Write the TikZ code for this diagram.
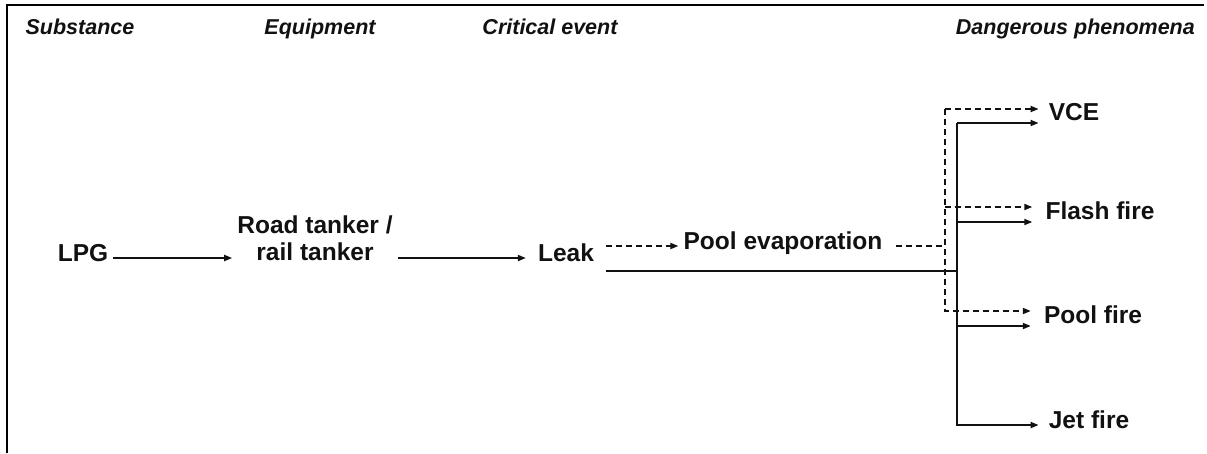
\documentclass[tikz,border=0pt]{standalone}
\usepackage{fontspec}
\setmainfont{Liberation Sans}
\usepackage{xcolor}
\definecolor{lpgdark}{RGB}{17, 17, 17}
\usetikzlibrary{arrows.meta, positioning}

\begin{document}
\begin{tikzpicture}[
        x=1pt, y=-1pt,
        term/.style={
            font=\bfseries\fontsize{24.5}{27}\selectfont,
            text=lpgdark,
            inner sep=5pt,
            text height=0.72em,
            text depth=0pt,
            align=center
        },
        head/.style={
            font=\bfseries\itshape\fontsize{21.5}{25}\selectfont,
            text=lpgdark,
            inner sep=0pt,
            text height=0.72em,
            text depth=0pt
        },
        frame/.style={line width=2pt, color=black},
        line/.style={line width=1.8pt, color=lpgdark},
        arrow/.style={line, -{Triangle[length=8pt, width=6pt]}},
        dashline/.style={line, dash pattern=on 6pt off 4pt},
        dasharrow/.style={dashline, -{Triangle[length=8pt, width=6pt]}}
    ]
        \useasboundingbox (0,0) rectangle (1207,453);
        \draw[frame] (1204,5) -- (7,5) -- (7,453);

        \node[head] (hsub) at (80,31) {Substance};
        \node[head] (hequ) at (320,31) {Equipment};
        \node[head] (hcrit) at (550,31) {Critical event};
        \node[head, anchor=east] (hdang) at (1195,31) {Dangerous phenomena};

        \node[term] (lpg) at (83,258) {LPG};
        \node[term] (tanker) at (315,257) {Road tanker /\\ rail tanker};
        \node[term] (leak) at (566,258) {Leak};
        \node[term] (evap) at (783,246) {Pool evaporation};

        \node[term] (vce) at (1074,117) {VCE};
        \node[term] (flash) at (1100,216) {Flash fire};
        \node[term] (poolfire) at (1093,320) {Pool fire};
        \node[term] (jet) at (1089,425) {Jet fire};

        \coordinate (dbus) at (945,0);
        \coordinate (sbus) at (957,0);

        \draw[arrow] (lpg) -- (tanker.west |- lpg);
        \draw[arrow, shorten >=7pt] (tanker.east |- leak) -- (leak);

        \draw[dasharrow] ([xshift=7pt, yshift=12pt]leak.east) -- (evap.west);
        \draw[dashline] ([xshift=8pt]evap.east) -- (evap.east -| dbus);
        \coordinate (dtop) at ([yshift=8pt]vce.west -| dbus);
        \draw[dasharrow] (dtop) -- ([yshift=8pt, xshift=-5pt]vce.west);
        \draw[dasharrow] (dtop) |- ([yshift=9pt, xshift=-8pt]poolfire.west);
        \draw[dasharrow] ([yshift=9pt]flash.west -| dbus) -- ([yshift=9pt, xshift=-8pt]flash.west);

        \draw[line] ([xshift=7pt, yshift=-13pt]leak.east) -- ([yshift=-13pt]leak.east -| sbus);
        \coordinate (stop) at ([yshift=-6pt]vce.west -| sbus);
        \draw[arrow] (stop) -- ([yshift=-6pt, xshift=-5pt]vce.west);
        \draw[arrow] (stop) |- ([xshift=-5pt]jet.west);
        \draw[arrow] ([yshift=-6pt]flash.west -| sbus) -- ([yshift=-6pt, xshift=-8pt]flash.west);
        \draw[arrow] ([yshift=-6pt]poolfire.west -| sbus) -- ([yshift=-6pt, xshift=-8pt]poolfire.west);

    \end{tikzpicture}
\end{document}
